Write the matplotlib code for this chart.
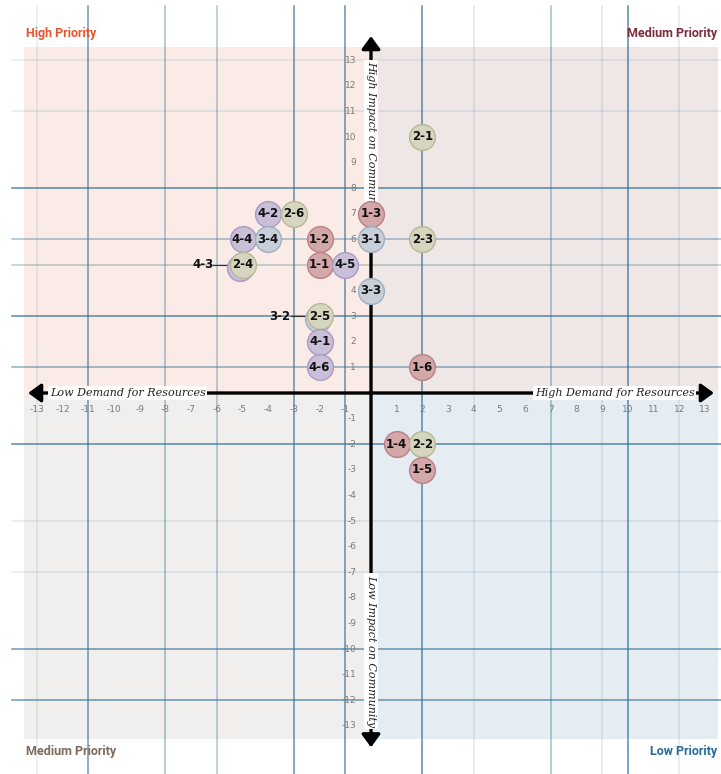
import matplotlib
matplotlib.use("Agg")
import matplotlib.pyplot as plt
from matplotlib.patches import Rectangle, FancyArrowPatch

# project codes and their (demand, impact) scores
codes = ["2-1", "4-2", "2-6", "1-3", "4-4", "3-4", "1-2", "3-1", "2-3",
         "4-3", "2-4", "1-1", "4-5", "3-3", "3-2", "2-5", "4-1", "4-6",
         "1-6", "1-4", "2-2", "1-5"]
demand = [2, -4, -3, 0, -5, -4, -2, 0, 2,
          -5, -5, -2, -1, 0, -2, -2, -2, -2,
          2, 1, 2, 2]
impact = [10, 7, 7, 7, 6, 6, 6, 6, 6,
          5, 5, 5, 5, 4, 3, 3, 2, 1,
          1, -2, -2, -3]
# codes hidden under another bubble get an outside label
hidden = ["4-3", "3-2"]

ticks = [t for t in range(-13, 14) if t != 0]

group_fill = {"1": "#d4a7a8", "2": "#d6d6c0", "3": "#c8cfd9", "4": "#c9bfd9"}
group_edge = {"1": "#b88088", "2": "#b9b894", "3": "#9fafc2", "4": "#a99bc2"}

# pixel scale of the layout
px_x, px_y = 25.7, 25.6
W, H = 721, 774
ox, oy = 371, 393

fig = plt.figure(figsize=(W / 100, H / 100), dpi=100)
ax = fig.add_axes([0, 0, 1, 1])
ax.set_xlim(-ox / px_x, (W - ox) / px_x)
ax.set_ylim(-(H - oy) / px_y, oy / px_y)
ax.axis("off")

# quadrant backgrounds
e = 13.5
quads = [(-e, 0, "#fbebe6"), (0, 0, "#efe6e6"), (-e, -e, "#f0efee"), (0, -e, "#e5edf3")]
for qx, qy, c in quads:
    ax.add_patch(Rectangle((qx, qy), e, e, facecolor=c, edgecolor="none", zorder=0))

# grid lines of mixed weight
gc = "#2f6f95"
v_lines = {-13: 0.12, -11: 0.7, -8: 0.45, -6: 0.4, -3: 0.75, -1: 0.75,
           2: 0.8, 4: 0.15, 7: 0.45, 9: 0.15, 10: 0.8, 12: 0.15}
h_lines = {13: 0.12, 11: 0.15, 8: 0.8, 6: 0.45, 5: 0.35, 3: 0.8, 1: 0.55,
           -2: 0.8, -5: 0.15, -7: 0.15, -10: 0.7, -12: 0.7}
y_top, y_bot = (oy - 6) / px_y, -(H - oy) / px_y
x_left, x_right = -(ox - 12) / px_x, (W - ox) / px_x
for v, a in v_lines.items():
    ax.plot([v, v], [y_bot, y_top], color=gc, alpha=a, lw=1.1, zorder=1)
for h, a in h_lines.items():
    ax.plot([x_left, x_right], [h, h], color=gc, alpha=a, lw=1.1, zorder=1)

# main axes as double-headed arrows
for start, end in [((-13.45, 0), (13.45, 0)), ((0, -13.95), (0, 14.05))]:
    ax.add_patch(FancyArrowPatch(start, end, arrowstyle="<|-|>,head_length=0.55,head_width=0.4",
                                 mutation_scale=14, color="black", lw=2.4, zorder=3))

for t in ticks:
    ax.text(t, -0.65, str(t), ha="center", va="center", fontsize=6.5, color="#7a7a7a", zorder=4)
    ax.text(-0.58, t, str(t), ha="right", va="center", fontsize=6.5, color="#7a7a7a", zorder=4)

box = dict(boxstyle="square,pad=0.15", facecolor="white", edgecolor="none")
lab_font = dict(family="DejaVu Serif", style="italic", fontsize=8, color="#222222", zorder=5)
ax.text(-12.5, 0, "Low Demand for Resources", ha="left", va="center", bbox=box, **lab_font)
ax.text(12.6, 0, "High Demand for Resources", ha="right", va="center", bbox=box, **lab_font)
ax.text(0, 12.95, "High Impact on Community", ha="center", va="top", rotation=-90, bbox=box, **lab_font)
ax.text(0, -7.1, "Low Impact on Community", ha="center", va="top", rotation=-90, bbox=box, **lab_font)

# quadrant titles
pfont = dict(family=["Liberation Sans Narrow", "Roboto"], fontweight="bold", fontsize=9, va="center")
ax.text(-13.42, 14.05, "High Priority", color="#e8542f", ha="left", **pfont)
ax.text(13.46, 14.05, "Medium Priority", color="#7a2d3a", ha="right", **pfont)
ax.text(-13.42, -14.0, "Medium Priority", color="#7d6a5a", ha="left", **pfont)
ax.text(13.46, -14.0, "Low Priority", color="#2b6a9a", ha="right", **pfont)

# bubbles, hidden ones first and nudged so their rim shows
nudge = (-0.08, -0.12)
order = [i for i, c in enumerate(codes) if c in hidden] + \
        [i for i, c in enumerate(codes) if c not in hidden]
for i in order:
    c = codes[i]
    g = c[0]
    x, y = demand[i], impact[i]
    if c in hidden:
        x, y = x + nudge[0], y + nudge[1]
        ax.plot([x - 1.05, x - 0.45], [y - nudge[1], y - nudge[1]], color="#333333", lw=0.8, zorder=6)
        ax.text(x - 1.05, y - nudge[1], c, ha="right", va="center", fontsize=8.5,
                fontweight="bold", color="#111111", zorder=6)
    ax.scatter([x], [y], s=345, facecolor=group_fill[g], edgecolor=group_edge[g], lw=1.0, zorder=7)
    if c not in hidden:
        ax.text(x, y, c, ha="center", va="center", fontsize=8.5, fontweight="bold",
                color="#111111", zorder=8)

fig.savefig("out.png", dpi=100)
